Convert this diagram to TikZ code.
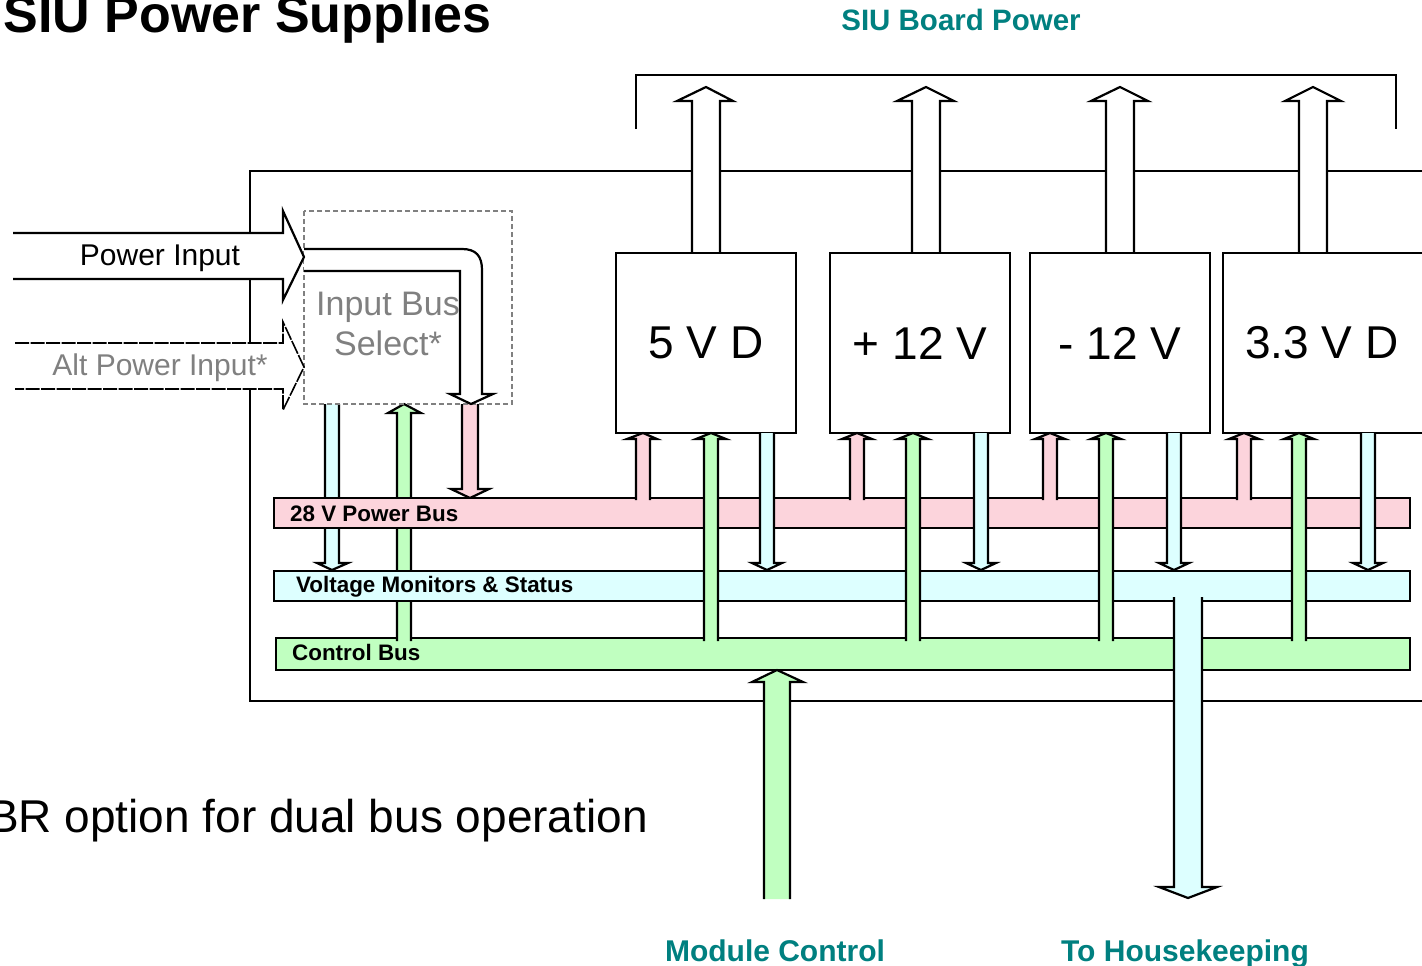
\documentclass[tikz,border=0pt]{standalone}
\usepackage{fontspec}
\setmainfont{Liberation Sans}
\definecolor{pinkbus}{RGB}{252,212,220}
\definecolor{cyanbus}{RGB}{221,255,255}
\definecolor{greenbus}{RGB}{192,255,192}
\definecolor{tealtxt}{RGB}{0,128,128}
\definecolor{graytxt}{RGB}{128,128,128}
\newcommand\FSz[1]{\fontsize{#1}{#1}\selectfont}
% #1 fill, #2 shaft left x, #3 shaft right x, #4 wing left x, #5 wing right x,
% #6 open end y, #7 head base y, #8 tip y
\newcommand\BlkArr[8]{%
  \fill[#1] (#2,#6) -- (#2,#7) -- (#4,#7) -- ({(#2+#3)/2},#8) -- (#5,#7) -- (#3,#7) -- (#3,#6) -- cycle;
  \draw[ln] (#2,#6) -- (#2,#7) -- (#4,#7) -- ({(#2+#3)/2},#8) -- (#5,#7) -- (#3,#7) -- (#3,#6);}
\tikzset{
  ln/.style={line width=2.2pt, line join=miter},
  bus/.style={draw, ln, inner sep=0pt},
  buslbl/.style={inner sep=0pt, anchor=base west, font={\bfseries\FSz{22.4}}},
  supply/.style={draw, ln, fill=white, inner sep=0pt, minimum width=180pt, minimum height=180pt, font={\FSz{46}}},
  lbl/.style={inner sep=0pt, anchor=base},
}
\begin{document}
\begin{tikzpicture}[x=1pt,y=-1pt]
\useasboundingbox (0,0) rectangle (1422,966);
\fill[white] (0,0) rectangle (1422,966);

% board frame
\draw[ln] (1422,171) -- (250,171) -- (250,701) -- (1422,701);
% SIU board power bracket
\draw[ln] (636,129) -- (636,75) -- (1396,75) -- (1396,129);

% control bus
\node[bus, fill=greenbus, minimum width=1134pt, minimum height=32pt] (cbus) at (843,654) {};

% arrows under the input bus select box
\BlkArr{cyanbus}{325}{339}{317}{348}{404}{563}{570}
\BlkArr{greenbus}{397}{411}{388}{421}{641}{413}{404}
\BlkArr{pinkbus}{462}{478}{451}{489}{404}{489}{498}

% 28 V and monitor buses
\node[bus, fill=pinkbus, minimum width=1136pt, minimum height=30pt] (pbus) at (842,513) {};
\node[bus, fill=cyanbus, minimum width=1136pt, minimum height=30pt] (vbus) at (842,586) {};

\node[buslbl] (pbl) at (290,521) {28 V Power Bus};
\node[buslbl] (vbl) at (296,592) {Voltage Monitors \& Status};
\node[buslbl] (cbl) at (292,660) {Control Bus};

% outputs to SIU board power
\BlkArr{white}{692}{720}{677}{733}{252}{101}{87}
\BlkArr{white}{912}{940}{897}{954}{252}{101}{87}
\BlkArr{white}{1106}{1134}{1091}{1148}{252}{101}{87}
\BlkArr{white}{1299}{1327}{1285}{1341}{252}{101}{87}

% supplies
\node[supply] (s5) at (706,343) {5 V D};
\node[supply] (s12p) at (920,343) {+ 12 V};
\node[supply] (s12m) at (1120,343) {- 12 V};
\node[supply, minimum width=207pt] (s33) at (1326.5,343) {};
\node[inner sep=0pt, font={\FSz{46}}] (t33) at (1322,343) {3.3 V D};

% supply connections
\BlkArr{pinkbus}{636}{650}{627}{657}{500}{439}{433}
\BlkArr{greenbus}{704}{718}{696}{726}{641}{439}{433}
\BlkArr{cyanbus}{760}{774}{752}{782}{433}{563}{570}

\BlkArr{pinkbus}{850}{864}{842}{872}{500}{439}{433}
\BlkArr{greenbus}{906}{920}{898}{928}{641}{439}{433}
\BlkArr{cyanbus}{974}{988}{966}{996}{433}{563}{570}

\BlkArr{pinkbus}{1043}{1057}{1035}{1065}{500}{439}{433}
\BlkArr{greenbus}{1099}{1113}{1091}{1121}{641}{439}{433}
\BlkArr{cyanbus}{1167}{1181}{1159}{1189}{433}{563}{570}

\BlkArr{pinkbus}{1237}{1251}{1229}{1259}{500}{439}{433}
\BlkArr{greenbus}{1292}{1306}{1284}{1314}{641}{439}{433}
\BlkArr{cyanbus}{1361}{1375}{1353}{1383}{433}{563}{570}

% module control and housekeeping
\BlkArr{greenbus}{764}{790}{752}{803}{899}{682}{670}
\BlkArr{cyanbus}{1174}{1202}{1159}{1217}{597}{887}{898}

% input bus select
\draw[graytxt, line width=1.5pt, dash pattern=on 5pt off 3pt] (304,211) rectangle (512,404);
\filldraw[ln, fill=white] (304,249) -- (462,249) .. controls (476,249) and (482,256) .. (482,270)
  -- (482,394) -- (493,394) -- (471,404) -- (450,394) -- (460,394) -- (460,271) -- (304,271);
\node[inner sep=0pt, align=center, text=graytxt, font={\FSz{34}}] (ibs) at (388,323.5) {Input Bus\\[6pt]Select*};

% power inputs
\filldraw[ln, fill=white] (13,233) -- (283,233) -- (283,211) -- (304,257) -- (283,300) -- (283,279) -- (13,279);
\node[lbl, font={\FSz{30}}] (pin) at (160,265) {Power Input};
\fill[white] (15,343) -- (283,343) -- (283,322) -- (304,367) -- (283,410) -- (283,389) -- (15,389) -- cycle;
\draw[line width=1.6pt, dash pattern=on 14pt off 1.5pt] (15,343) -- (283,343) -- (283,322) -- (304,367) -- (283,410) -- (283,389) -- (15,389);
\node[lbl, font={\FSz{30}}, text=graytxt] (apin) at (160,375) {Alt Power Input*};

% titles and notes
\node[inner sep=0pt, anchor=base east, font={\bfseries\FSz{52}}] (title) at (492,33) {SIU Power Supplies};
\node[lbl, font={\bfseries\FSz{29.5}}, text=tealtxt] (brd) at (961,31) {SIU Board Power};
\node[lbl, font={\bfseries\FSz{30}}, text=tealtxt] (mc) at (775,961) {Module Control};
\node[lbl, font={\bfseries\FSz{30}}, text=tealtxt] (hk) at (1185,961) {To Housekeeping};
\node[inner sep=0pt, anchor=base east, font={\FSz{46}}] (note) at (648,832) {BR option for dual bus operation};
\end{tikzpicture}
\end{document}
